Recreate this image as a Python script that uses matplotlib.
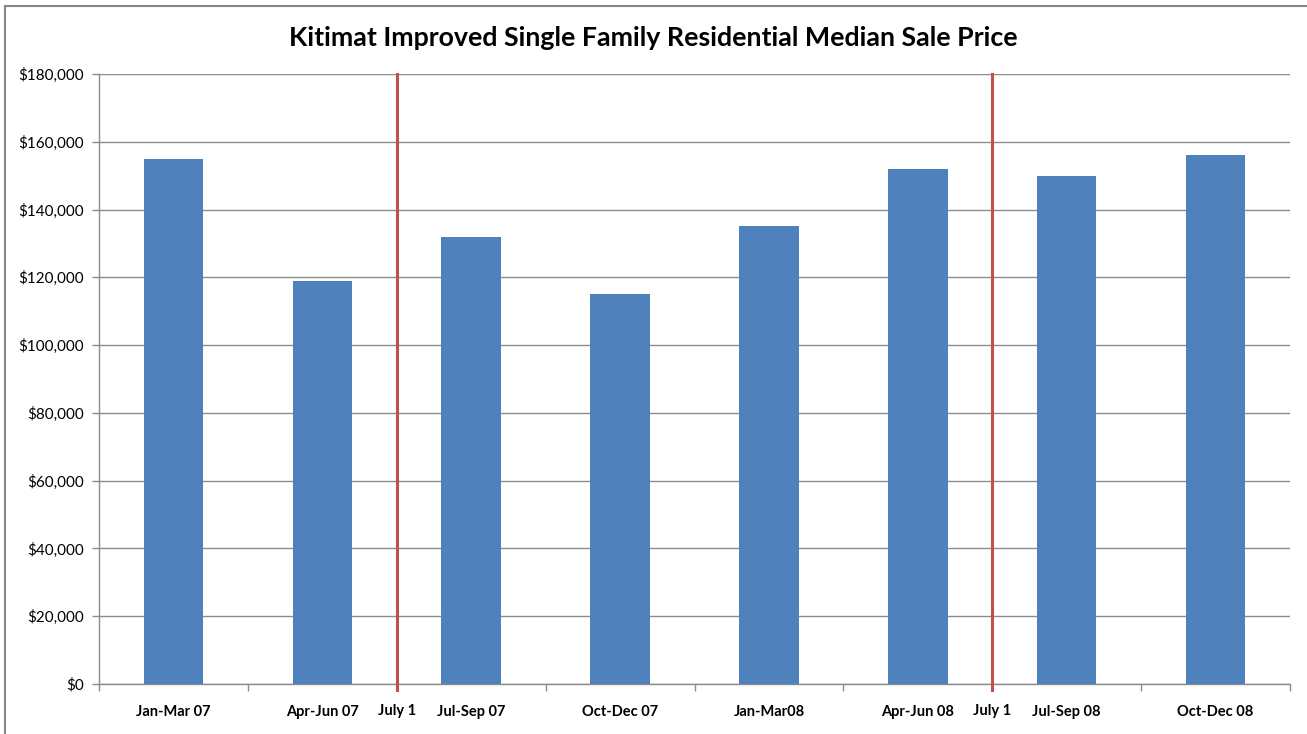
import matplotlib
matplotlib.use("Agg")
import matplotlib.pyplot as plt
from matplotlib.lines import Line2D
from matplotlib.ticker import FuncFormatter, FixedLocator

# quarterly median sale prices
quarters = ["Jan-Mar 07", "Apr-Jun 07", "Jul-Sep 07", "Oct-Dec 07",
            "Jan-Mar08", "Apr-Jun 08", "Jul-Sep 08", "Oct-Dec 08"]
prices = [155000, 119000, 132000, 115000, 135000, 152000, 150000, 156000]

# July 1 markers fall between these quarters
marker_pos = [1.5, 5.5]
marker_label = "July 1"

plt.rcParams['font.family'] = ['Lato', 'DejaVu Sans']

fig = plt.figure(figsize=(13.07, 7.34), dpi=100)
ax = fig.add_axes([99/1307, 1 - 684/734, (1290 - 99)/1307, (684 - 74)/734])

x = list(range(len(quarters)))
ax.bar(x, prices, width=0.4, color='#4f81bd', zorder=3)

for p in marker_pos:
    ax.axvline(p, color='#c0504d', linewidth=2.2, zorder=4, ymin=-0.01, clip_on=False)
    ax.text(p, -0.044, marker_label, transform=ax.get_xaxis_transform(),
            ha='center', va='center', fontsize=10.5, fontweight='bold')

ax.set_xlim(-0.5, 7.5)
ax.set_ylim(0, 180000)
ax.set_yticks(range(0, 180001, 20000))
ax.yaxis.set_major_formatter(FuncFormatter(lambda v, _: f"${v:,.0f}"))
ax.grid(axis='y', color='#8c8c8c', linewidth=1, zorder=0)

ax.set_xticks(x)
ax.set_xticklabels(quarters, fontsize=10.5, fontweight='bold')
ax.tick_params(axis='x', which='major', length=0, pad=15)
ax.xaxis.set_minor_locator(FixedLocator([i - 0.5 for i in range(len(quarters) + 1)]))
ax.tick_params(axis='x', which='minor', length=5, color='#8c8c8c', width=1)
ax.tick_params(axis='y', length=5, color='#8c8c8c', width=1, labelsize=11, pad=6)

for side in ['top', 'right']:
    ax.spines[side].set_visible(False)
for side in ['left', 'bottom']:
    ax.spines[side].set_color('#8c8c8c')
    ax.spines[side].set_linewidth(1)

fig.text(0.5, 1 - 38/734, "Kitimat Improved Single Family Residential Median Sale Price",
         ha='center', va='center', fontsize=19.3, fontweight='bold')

# outer chart border (top and left edges visible)
fig.add_artist(Line2D([5/1307, 5/1307], [0, 1 - 6/734], transform=fig.transFigure,
                      color='#868686', linewidth=1.5))
fig.add_artist(Line2D([5/1307, 1], [1 - 6/734, 1 - 6/734], transform=fig.transFigure,
                      color='#868686', linewidth=1.5))

fig.savefig("out.png", dpi=100)
